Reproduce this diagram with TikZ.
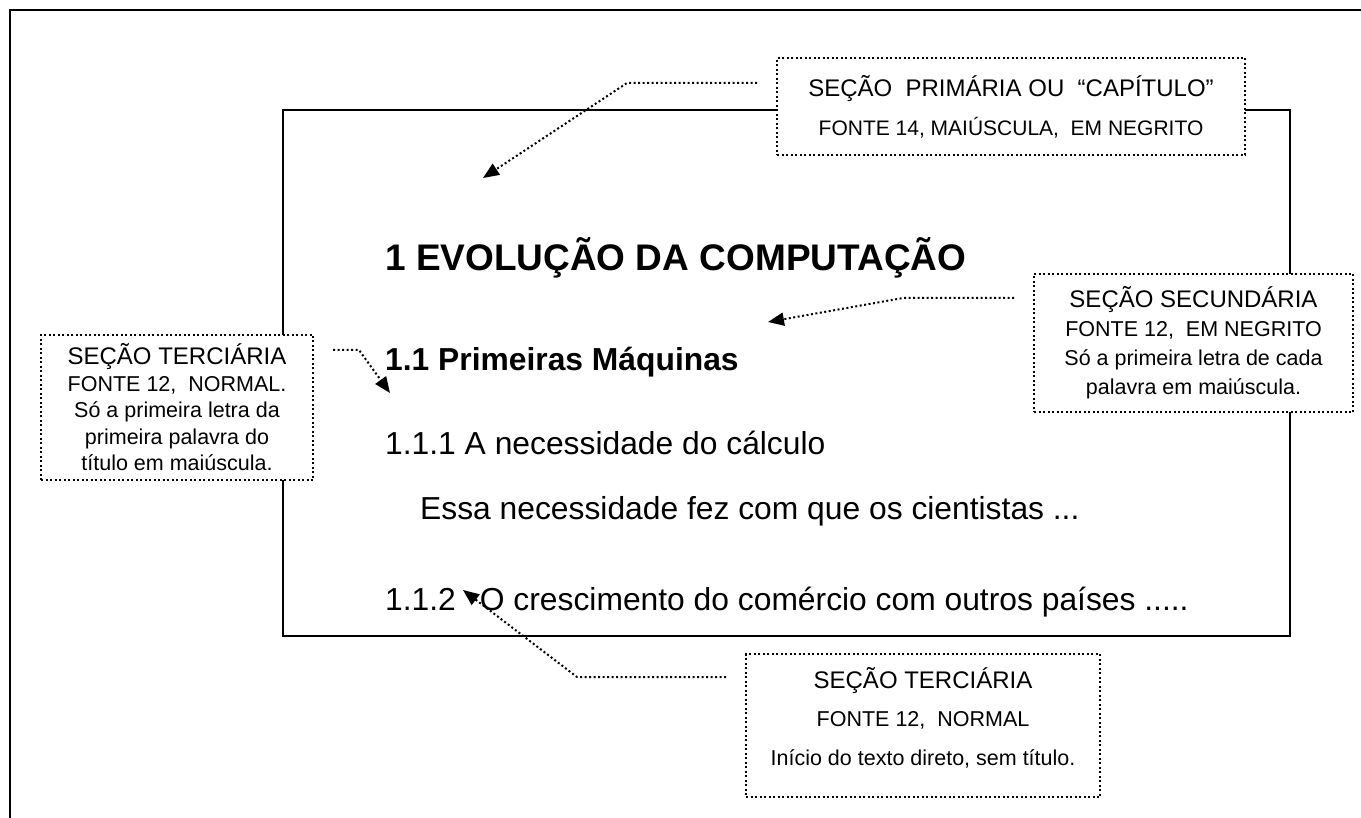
\documentclass[tikz,border=0pt]{standalone}
\usepackage{fontspec}
\setmainfont{Liberation Sans}
\usetikzlibrary{arrows.meta, positioning}

\newcommand{\chapfont}{\fontsize{37}{40}\selectfont\bfseries}
\newcommand{\secfont}{\fontsize{31.8}{36}\selectfont\bfseries}
\newcommand{\bodyfont}{\fontsize{31.8}{36}\selectfont}
\newcommand{\notehead}{\fontsize{24}{28}\selectfont}

\tikzset{
  frame/.style={line width=2pt},
  note/.style={draw, fill=white, line width=2pt, dash pattern=on 2pt off 2.5pt,
    align=center, inner sep=0pt},
  pointer/.style={line width=2pt, dash pattern=on 2pt off 2.5pt, shorten <=19pt,
    -{Triangle[length=16pt, width=13pt]}},
}

\begin{document}
\begin{tikzpicture}[x=1pt, y=-1pt]
  \useasboundingbox (0,0) rectangle (1361,818);
  \clip (0,0) rectangle (1361,818);
  % page edge (cut off at right and bottom)
  \draw[frame] (1400,10) -- (10,10) -- (10,850);
  % text area
  \draw[frame] (283,110) rectangle (1290,636);

  % sample text
  \node[anchor=base west, font=\chapfont, inner sep=0pt] (chap) at (385,271) {1 EVOLUÇÃO DA COMPUTAÇÃO};
  \node[anchor=base west, font=\secfont, inner sep=0pt] (sec) at (385,371) {1.1 Primeiras Máquinas};
  \node[anchor=base west, font=\bodyfont, inner sep=0pt] (subA) at (385,454) {1.1.1 A necessidade do cálculo};
  \node[anchor=base west, font=\bodyfont, inner sep=0pt] (par) at (420,519) {Essa necessidade fez com que os cientistas ...};
  \node[anchor=base west, font=\bodyfont, inner sep=0pt] (subB) at (385,610) {1.1.2\hspace{24pt}O crescimento do comércio com outros países .....};

  % notes
  \node[note, minimum width=468pt, minimum height=97pt, font=\fontsize{21}{39}\selectfont] (prim) at (1011,106.5)
    {{\notehead SEÇÃO\ \ PRIMÁRIA OU\ \ “CAPÍTULO”}\\FONTE 14, MAIÚSCULA,\ \ EM NEGRITO};
  \node[note, minimum width=319pt, minimum height=138pt, font=\fontsize{21.5}{29}\selectfont] (secd) at (1193.5,343)
    {{\notehead SEÇÃO SECUNDÁRIA}\\FONTE 12,\ \ EM NEGRITO\\Só a primeira letra de cada\\palavra em maiúscula.};
  \node[note, minimum width=272pt, minimum height=145pt, font=\fontsize{21.5}{26.5}\selectfont] (tercA) at (177,407.5)
    {{\notehead SEÇÃO TERCIÁRIA}\\FONTE 12,\ \ NORMAL.\\Só a primeira letra da\\primeira palavra do\\título em maiúscula.};
  \node[note, minimum width=354pt, minimum height=143pt, font=\fontsize{21.5}{38.5}\selectfont] (tercB) at (923,725.5)
    {{\notehead SEÇÃO TERCIÁRIA}\\FONTE 12,\ \ NORMAL\\Início do texto direto, sem título.\\[-20pt]\mbox{}};

  % pointers
  \coordinate (bendA) at (627,83);
  \coordinate (tipA) at (483,178);
  \coordinate (bendB) at (903,298);
  \coordinate (tipB) at (768,322);
  \coordinate (bendC) at (359,350);
  \coordinate (tipC) at (390,393);
  \coordinate (bendD) at (577,677);
  \coordinate (tipD) at (463,590);
  \draw[pointer] (prim.west |- bendA) -- (bendA) -- (tipA);
  \draw[pointer] (secd.west |- bendB) -- (bendB) -- (tipB);
  \draw[pointer] (tercA.east |- bendC) -- (bendC) -- (tipC);
  \draw[pointer] (tercB.west |- bendD) -- (bendD) -- (tipD);
\end{tikzpicture}
\end{document}
